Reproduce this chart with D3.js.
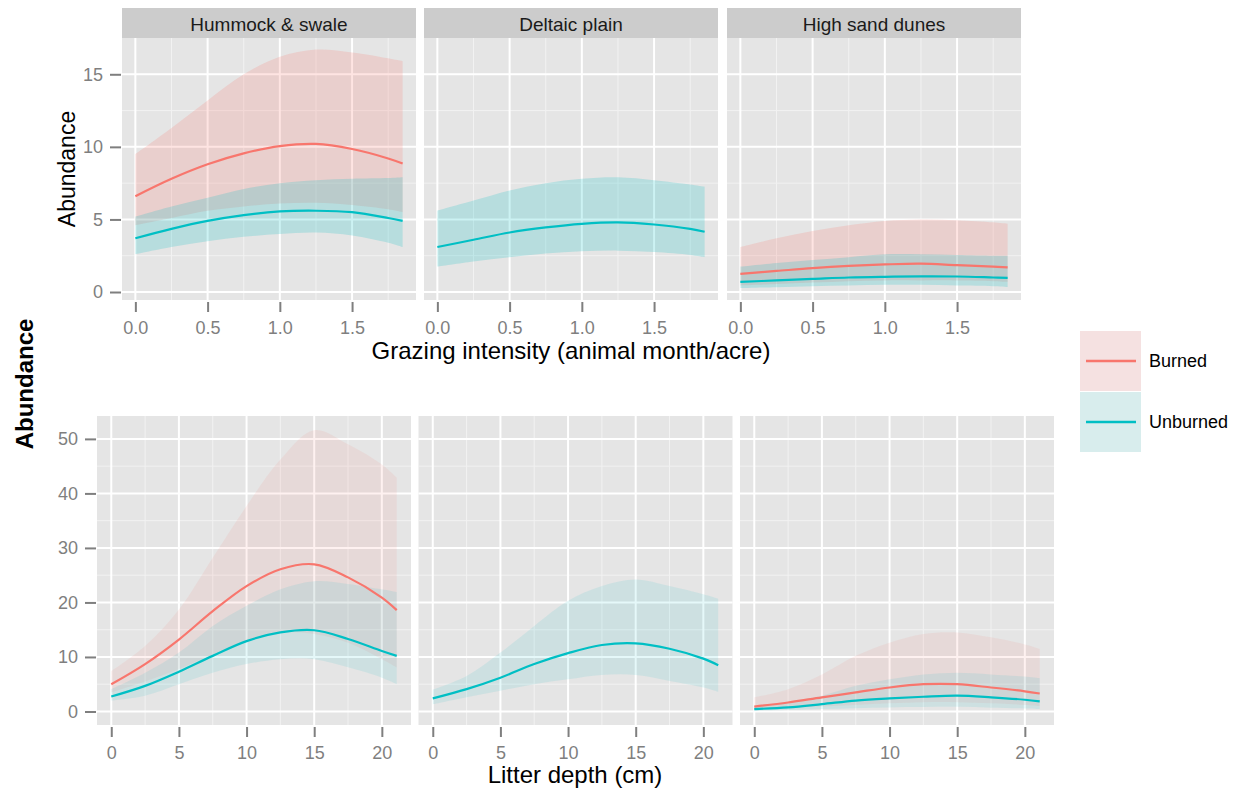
<!DOCTYPE html>
<html>
<head>
<meta charset="utf-8">
<script src="https://cdn.jsdelivr.net/npm/d3@7"></script>
<style>
	body { margin: 0; background: #fff; }
	text { font-family: "Liberation Sans", Arial, sans-serif; }
</style>
</head>
<body>
<script>
// x positions where the fitted curves were read
const grazingX = [0, 0.25, 0.5, 0.75, 1.0, 1.25, 1.5, 1.75, 1.85];
const litterX = [0, 2.5, 5, 7.5, 10, 12.5, 15, 17.5, 20, 21.1];

const habitats = ["Hummock & swale", "Deltaic plain", "High sand dunes"];
const treatments = ["Burned", "Unburned"];
const colors = ["#F8766D", "#00BFC4"];

const grazingTicks = [0, 0.5, 1.0, 1.5];
const litterTicks = [0, 5, 10, 15, 20];
const grazingYTicks = [0, 5, 10, 15];
const litterYTicks = [0, 10, 20, 30, 40, 50];

// grazing intensity, Hummock & swale
const grazHumBurnedFit = [6.6, 7.8, 8.8, 9.55, 10.05, 10.2, 9.85, 9.2, 8.85];
const grazHumBurnedLo = [4.6, 5.1, 5.6, 5.9, 6.1, 6.15, 6.0, 5.7, 5.5];
const grazHumBurnedHi = [9.5, 11.3, 13.2, 15.0, 16.2, 16.7, 16.5, 16.1, 15.9];
const grazHumUnburnedFit = [3.7, 4.35, 4.9, 5.3, 5.55, 5.6, 5.5, 5.1, 4.9];
const grazHumUnburnedLo = [2.6, 3.1, 3.5, 3.8, 4.0, 4.1, 3.9, 3.4, 3.1];
const grazHumUnburnedHi = [5.2, 5.9, 6.5, 7.1, 7.5, 7.7, 7.8, 7.85, 7.9];
// grazing intensity, Deltaic plain
const grazDelUnburnedFit = [3.1, 3.6, 4.1, 4.45, 4.7, 4.8, 4.65, 4.35, 4.15];
const grazDelUnburnedLo = [1.75, 2.1, 2.4, 2.65, 2.8, 2.85, 2.75, 2.55, 2.4];
const grazDelUnburnedHi = [5.6, 6.3, 7.0, 7.5, 7.8, 7.9, 7.7, 7.4, 7.25];
// grazing intensity, High sand dunes
const grazDunBurnedFit = [1.25, 1.45, 1.65, 1.8, 1.9, 1.95, 1.85, 1.75, 1.7];
const grazDunBurnedLo = [0.45, 0.55, 0.65, 0.75, 0.8, 0.8, 0.8, 0.75, 0.7];
const grazDunBurnedHi = [3.1, 3.7, 4.2, 4.6, 4.9, 5.0, 4.95, 4.8, 4.7];
const grazDunUnburnedFit = [0.7, 0.8, 0.9, 1.0, 1.05, 1.08, 1.07, 1.0, 0.97];
const grazDunUnburnedLo = [0.27, 0.33, 0.4, 0.45, 0.5, 0.5, 0.45, 0.4, 0.35];
const grazDunUnburnedHi = [1.75, 2.0, 2.2, 2.4, 2.6, 2.6, 2.55, 2.5, 2.5];

// litter depth, Hummock & swale
const litHumBurnedFit = [5.0, 8.7, 13.2, 18.4, 23.0, 26.1, 27.0, 24.6, 20.9, 18.6];
const litHumBurnedLo = [3.5, 5.5, 7.8, 10.5, 13.0, 14.5, 14.2, 12.6, 9.6, 8.1];
const litHumBurnedHi = [7.4, 12.0, 18.7, 28.2, 37.7, 46.2, 51.6, 49.0, 45.3, 42.9];
const litHumUnburnedFit = [2.75, 4.7, 7.3, 10.2, 12.9, 14.5, 14.9, 13.3, 11.1, 10.2];
const litHumUnburnedLo = [2.0, 2.9, 5.0, 7.1, 8.7, 9.6, 9.6, 8.1, 6.2, 5.0];
const litHumUnburnedHi = [4.1, 7.1, 10.8, 15.7, 19.4, 22.4, 23.9, 23.4, 22.4, 21.9];
// litter depth, Deltaic plain
const litDelUnburnedFit = [2.4, 4.1, 6.2, 8.7, 10.7, 12.2, 12.5, 11.5, 9.7, 8.5];
const litDelUnburnedLo = [1.3, 2.6, 3.8, 5.0, 5.9, 6.7, 6.7, 5.6, 4.4, 3.6];
const litDelUnburnedHi = [4.0, 6.5, 10.8, 15.7, 20.3, 23.0, 24.2, 23.0, 21.5, 20.7];
// litter depth, High sand dunes
const litDunBurnedFit = [0.9, 1.65, 2.6, 3.5, 4.4, 5.0, 5.0, 4.4, 3.7, 3.3];
const litDunBurnedLo = [0.3, 0.6, 0.9, 1.2, 1.5, 1.7, 1.7, 1.5, 1.2, 1.0];
const litDunBurnedHi = [2.6, 4.1, 6.8, 10.2, 12.6, 14.2, 14.5, 13.6, 12.3, 11.5];
const litDunUnburnedFit = [0.45, 0.75, 1.35, 2.0, 2.4, 2.7, 2.9, 2.6, 2.15, 1.85];
const litDunUnburnedLo = [0.1, 0.25, 0.45, 0.6, 0.75, 0.8, 0.85, 0.7, 0.55, 0.45];
const litDunUnburnedHi = [1.05, 1.8, 2.9, 4.7, 5.9, 6.8, 7.1, 6.8, 6.4, 6.1];

const w = 1241, h = 795;

const rows = [
	{
		xs: grazingX, xDomain: [-0.0925, 1.9425], yDomain: [-0.55, 17.5],
		lefts: [122, 424, 727], pw: 294, top: 38, bottom: 300,
		xTicks: grazingTicks, xMinor: [0.25, 0.75, 1.25, 1.75], fmt: d3.format(".1f"),
		yTicks: grazingYTicks, yMinor: [2.5, 7.5, 12.5], alpha: 0.2, strip: true,
		panels: [
			[{t: 0, fit: grazHumBurnedFit, lo: grazHumBurnedLo, hi: grazHumBurnedHi},
			 {t: 1, fit: grazHumUnburnedFit, lo: grazHumUnburnedLo, hi: grazHumUnburnedHi}],
			[{t: 1, fit: grazDelUnburnedFit, lo: grazDelUnburnedLo, hi: grazDelUnburnedHi}],
			[{t: 0, fit: grazDunBurnedFit, lo: grazDunBurnedLo, hi: grazDunBurnedHi},
			 {t: 1, fit: grazDunUnburnedFit, lo: grazDunUnburnedLo, hi: grazDunUnburnedHi}]
		]
	},
	{
		xs: litterX, xDomain: [-1.055, 22.155], yDomain: [-2.48, 54.2],
		lefts: [97, 418.5, 740], pw: 314, top: 416, bottom: 725,
		xTicks: litterTicks, xMinor: [2.5, 7.5, 12.5, 17.5], fmt: d3.format("d"),
		yTicks: litterYTicks, yMinor: [5, 15, 25, 35, 45], alpha: 0.1, strip: false,
		panels: [
			[{t: 0, fit: litHumBurnedFit, lo: litHumBurnedLo, hi: litHumBurnedHi},
			 {t: 1, fit: litHumUnburnedFit, lo: litHumUnburnedLo, hi: litHumUnburnedHi}],
			[{t: 1, fit: litDelUnburnedFit, lo: litDelUnburnedLo, hi: litDelUnburnedHi}],
			[{t: 0, fit: litDunBurnedFit, lo: litDunBurnedLo, hi: litDunBurnedHi},
			 {t: 1, fit: litDunUnburnedFit, lo: litDunUnburnedLo, hi: litDunUnburnedHi}]
		]
	}
];

const svg = d3.select("body")
	.append("svg")
	.attr("width", w)
	.attr("height", h)
	.style("background", "#fff");

rows.forEach((row) => {
	const yScale = d3.scaleLinear().domain(row.yDomain).range([row.bottom, row.top]);

	row.panels.forEach((series, p) => {
		const left = row.lefts[p];
		const xScale = d3.scaleLinear().domain(row.xDomain).range([left, left + row.pw]);
		const g = svg.append("g");

		g.append("rect")
			.attr("x", left).attr("y", row.top)
			.attr("width", row.pw).attr("height", row.bottom - row.top)
			.attr("fill", "#e5e5e5");

		// minor grid
		g.selectAll(".vminor").data(row.xMinor).enter().append("line")
			.attr("x1", (d) => xScale(d)).attr("x2", (d) => xScale(d))
			.attr("y1", row.top).attr("y2", row.bottom)
			.attr("stroke", "#f2f2f2").attr("stroke-width", 1);
		g.selectAll(".hminor").data(row.yMinor).enter().append("line")
			.attr("x1", left).attr("x2", left + row.pw)
			.attr("y1", (d) => yScale(d)).attr("y2", (d) => yScale(d))
			.attr("stroke", "#f2f2f2").attr("stroke-width", 1);
		// major grid
		g.selectAll(".vmajor").data(row.xTicks).enter().append("line")
			.attr("x1", (d) => xScale(d)).attr("x2", (d) => xScale(d))
			.attr("y1", row.top).attr("y2", row.bottom)
			.attr("stroke", "#fff").attr("stroke-width", 2);
		g.selectAll(".hmajor").data(row.yTicks).enter().append("line")
			.attr("x1", left).attr("x2", left + row.pw)
			.attr("y1", (d) => yScale(d)).attr("y2", (d) => yScale(d))
			.attr("stroke", "#fff").attr("stroke-width", 2);

		const area = d3.area()
			.x((d) => xScale(d.x))
			.y0((d) => yScale(d.lo))
			.y1((d) => yScale(d.hi))
			.curve(d3.curveCatmullRom.alpha(0.5));
		const line = d3.line()
			.x((d) => xScale(d.x))
			.y((d) => yScale(d.fit))
			.curve(d3.curveCatmullRom.alpha(0.5));

		const table = series.map((s) => ({
			t: s.t,
			pts: row.xs.map((x, i) => ({x: x, fit: s.fit[i], lo: s.lo[i], hi: s.hi[i]}))
		}));

		g.selectAll(".ribbon").data(table).enter().append("path")
			.attr("d", (d) => area(d.pts))
			.attr("fill", (d) => colors[d.t])
			.attr("fill-opacity", row.alpha);
		g.selectAll(".fit").data(table).enter().append("path")
			.attr("d", (d) => line(d.pts))
			.attr("fill", "none")
			.attr("stroke", (d) => colors[d.t])
			.attr("stroke-width", 2.2);

		if (row.strip) {
			g.append("rect")
				.attr("x", left).attr("y", 8)
				.attr("width", row.pw).attr("height", row.top - 8)
				.attr("fill", "#cccccc");
			g.append("text")
				.attr("x", left + row.pw / 2).attr("y", 24)
				.attr("dy", "0.35em")
				.attr("text-anchor", "middle")
				.style("font-size", "19px")
				.attr("fill", "#1a1a1a")
				.text(habitats[p]);
		}

		const xAxis = d3.axisBottom(xScale).tickValues(row.xTicks).tickFormat(row.fmt)
			.tickSize(10).tickPadding(9);
		const ax = g.append("g")
			.attr("transform", "translate(0," + (row.bottom + 2) + ")")
			.call(xAxis);
		ax.select(".domain").remove();
		ax.selectAll("line").attr("stroke", "#7f7f7f").attr("stroke-width", 2);
		ax.selectAll("text").attr("fill", "#7f7f7f").style("font-size", "18px");

		if (p === 0) {
			const yAxis = d3.axisLeft(yScale).tickValues(row.yTicks).tickSize(11).tickPadding(7);
			const ay = g.append("g")
				.attr("transform", "translate(" + (left - 1) + ",0)")
				.call(yAxis);
			ay.select(".domain").remove();
			ay.selectAll("line").attr("stroke", "#7f7f7f").attr("stroke-width", 2);
			ay.selectAll("text").attr("fill", "#7f7f7f").style("font-size", "18px");
		}
	});
});

// axis titles
svg.append("text")
	.attr("transform", "rotate(-90)")
	.attr("x", -169).attr("y", 75)
	.attr("text-anchor", "middle")
	.style("font-size", "23px")
	.text("Abundance");

svg.append("text")
	.attr("x", 571).attr("y", 359)
	.attr("text-anchor", "middle")
	.style("font-size", "24px")
	.text("Grazing intensity (animal month/acre)");

svg.append("text")
	.attr("x", 575).attr("y", 783)
	.attr("text-anchor", "middle")
	.style("font-size", "24px")
	.text("Litter depth (cm)");

svg.append("text")
	.attr("transform", "rotate(-90)")
	.attr("x", -384).attr("y", 33)
	.attr("text-anchor", "middle")
	.style("font-size", "24px")
	.style("font-weight", "bold")
	.text("Abundance");

// legend
const keyFill = ["#f5e1e1", "#d8eded"];
const legend = svg.selectAll(".legend")
	.data(treatments)
	.enter()
	.append("g")
	.attr("transform", (d, i) => "translate(1080," + (331 + i * 61) + ")");
legend.append("rect")
	.attr("width", 61).attr("height", 60)
	.attr("fill", (d, i) => keyFill[i]);
legend.append("line")
	.attr("x1", 6).attr("x2", 56)
	.attr("y1", 30).attr("y2", 30)
	.attr("stroke", (d, i) => colors[i])
	.attr("stroke-width", 2.5);
legend.append("text")
	.attr("x", 69).attr("y", 30)
	.attr("dy", "0.35em")
	.style("font-size", "18px")
	.text((d) => d);
</script>
</body>
</html>
